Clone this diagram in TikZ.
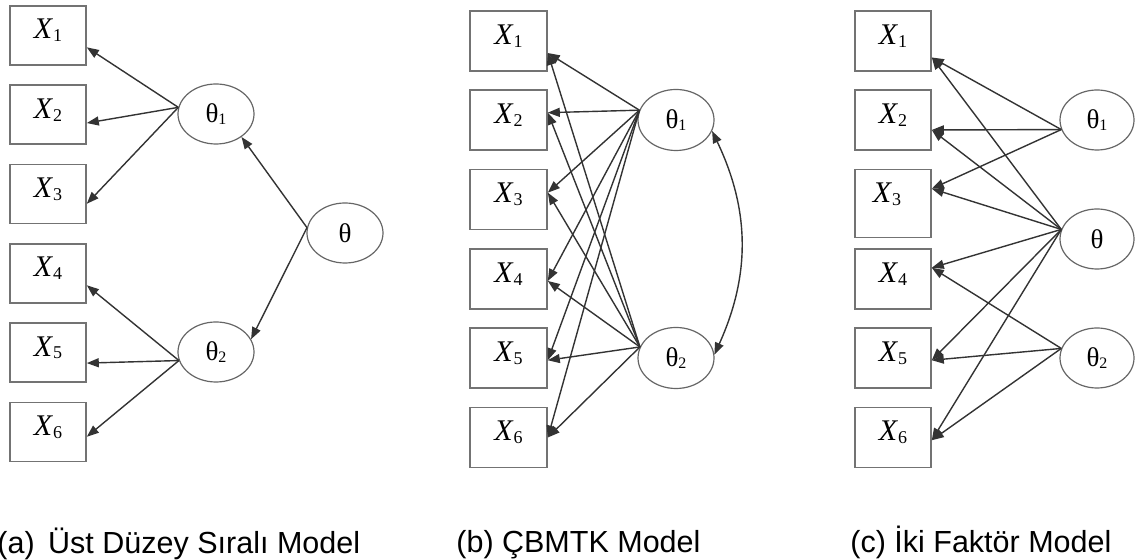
\documentclass[tikz,border=0pt]{standalone}
\usepackage{fontspec}
\setmainfont{Liberation Serif}
\setsansfont{Liberation Sans}
\usepackage{tikz}
\usetikzlibrary{positioning, arrows.meta, shapes.geometric}

% item and trait labels
\newcommand{\obsX}[1]{\raisebox{2.5pt}[\height][\depth]{\textit{X}\raisebox{-1.4pt}{\fontsize{9}{9}\selectfont #1}}\hspace{6pt}}
\newcommand{\latT}[1]{θ\raisebox{-1.2pt}{\fontsize{8}{8}\selectfont #1}}

\tikzset{
	obs/.style={rectangle, draw=black!55, line width=0.8pt, minimum width=38pt, minimum height=29.5pt, inner sep=0pt, font=\fontsize{15}{15}\selectfont}, % observed items
	lat/.style={ellipse, draw=black!60, line width=0.6pt, minimum width=38pt, minimum height=30pt, inner sep=0pt, font=\fontsize{13.5}{14}\selectfont}, % latent traits
	load/.style={-{Triangle[length=6pt,width=4.5pt]}, draw=black!80, line width=0.7pt}, % loadings
	corr/.style={{Triangle[length=6pt,width=4.5pt]}-{Triangle[length=6pt,width=4.5pt]}, draw=black!80, line width=0.7pt}, % correlation
	paneltitle/.style={anchor=base west, inner sep=0pt, font=\sffamily\fontsize{15.25}{18}\selectfont}, % captions
}

\begin{document}
\begin{tikzpicture}[x=0.5pt, y=-0.5pt, node distance=39.65pt, on grid]
        \useasboundingbox (0,0) rectangle (1135,560);

        % (a) higher order model
        \node[obs] (a1) at (48,35.5) {\obsX{1}};
        \node[obs, below=of a1] (a2) {\obsX{2}};
        \node[obs, below=of a2] (a3) {\obsX{3}};
        \node[obs, below=of a3] (a4) {\obsX{4}};
        \node[obs, below=of a4] (a5) {\obsX{5}};
        \node[obs, below=of a5] (a6) {\obsX{6}};
        \node[lat] (at1) at (216,114) {\latT{1}};
        \node[lat] (at2) at (216,352) {\latT{2}};
        \node[lat] (at) at (345,233) {θ};

        \draw[load] (at1.170) -- (a1.-17);
        \draw[load] (at1.170) -- (a2.-12);
        \draw[load] (at1.170) -- (a3.-14);
        \draw[load] (at2.193) -- (a4.-17);
        \draw[load] (at2.193) -- (a5.-15);
        \draw[load] (at2.193) -- (a6.-7);
        \draw[load] (at.172) -- (at1.-42);
        \draw[load] (at.172) -- (at2.20);

        % (b) correlated traits model
        \node[obs, minimum width=38.5pt, minimum height=30pt] (b1) at (508.5,41) {\obsX{1}};
        \node[obs, minimum width=38.5pt, minimum height=30pt, below=of b1] (b2) {\obsX{2}};
        \node[obs, minimum width=38.5pt, minimum height=30pt, below=of b2] (b3) {\obsX{3}};
        \node[obs, minimum width=38.5pt, minimum height=30pt, below=of b3] (b4) {\obsX{4}};
        \node[obs, minimum width=38.5pt, minimum height=30pt, below=of b4] (b5) {\obsX{5}};
        \node[obs, minimum width=38.5pt, minimum height=30pt, below=of b5] (b6) {\obsX{6}};
        \node[lat, minimum height=30.5pt] (bt1) at (676,120) {\latT{1}};
        \node[lat, minimum height=30.5pt] (bt2) at (676,358) {\latT{2}};

        \foreach \i/\ang in {1/-17, 2/11, 3/10, 4/-3, 5/-3, 6/0} {
            \draw[load] (bt1.165) -- (b\i.\ang);
            \draw[load] (bt2.163) -- (b\i.\ang);
        }
        \draw[corr, bend left=25] (bt1.-17) to (bt2.5);

        % (c) bifactor model
        \node[obs, minimum height=30pt] (c1) at (893,41) {\obsX{1}};
        \node[obs, minimum height=30pt, below=of c1] (c2) {\obsX{2}};
        \node[obs, minimum height=34pt, below=of c2, yshift=-2pt] (c3) {\raisebox{2pt}[\height][\depth]{\obsX{3}}};
        \node[obs, minimum height=30pt, below=79.3pt of c2] (c4) {\obsX{4}};
        \node[obs, minimum height=30pt, below=of c4] (c5) {\obsX{5}};
        \node[obs, minimum height=30pt, below=of c5] (c6) {\obsX{6}};
        \node[lat, minimum width=37pt] (ct1) at (1097,120) {\latT{1}};
        \node[lat, minimum width=37pt] (ct) at (1097,239) {θ};
        \node[lat, minimum width=37pt] (ct2) at (1097,358) {\latT{2}};

        \foreach \i/\ang in {1/-23, 2/-14, 3/21}
            \draw[load] (ct1.195) -- (c\i.\ang);
        \foreach \i/\ang in {1/-23, 2/-14, 3/21, 4/16, 5/-3, 6/-4}
            \draw[load] (ct.165) -- (c\i.\ang);
        \foreach \i/\ang in {4/16, 5/-3, 6/-4}
            \draw[load] (ct2.165) -- (c\i.\ang);

        % captions
        \node[paneltitle] (capa) at (-3,554) {(a)\ \,Üst Düzey Sıralı Model};
        \node[paneltitle] (capb) at (456,553) {(b) ÇBMTK Model};
        \node[paneltitle] (capc) at (850,553) {(c) İki Faktör Model};
    \end{tikzpicture}
\end{document}
